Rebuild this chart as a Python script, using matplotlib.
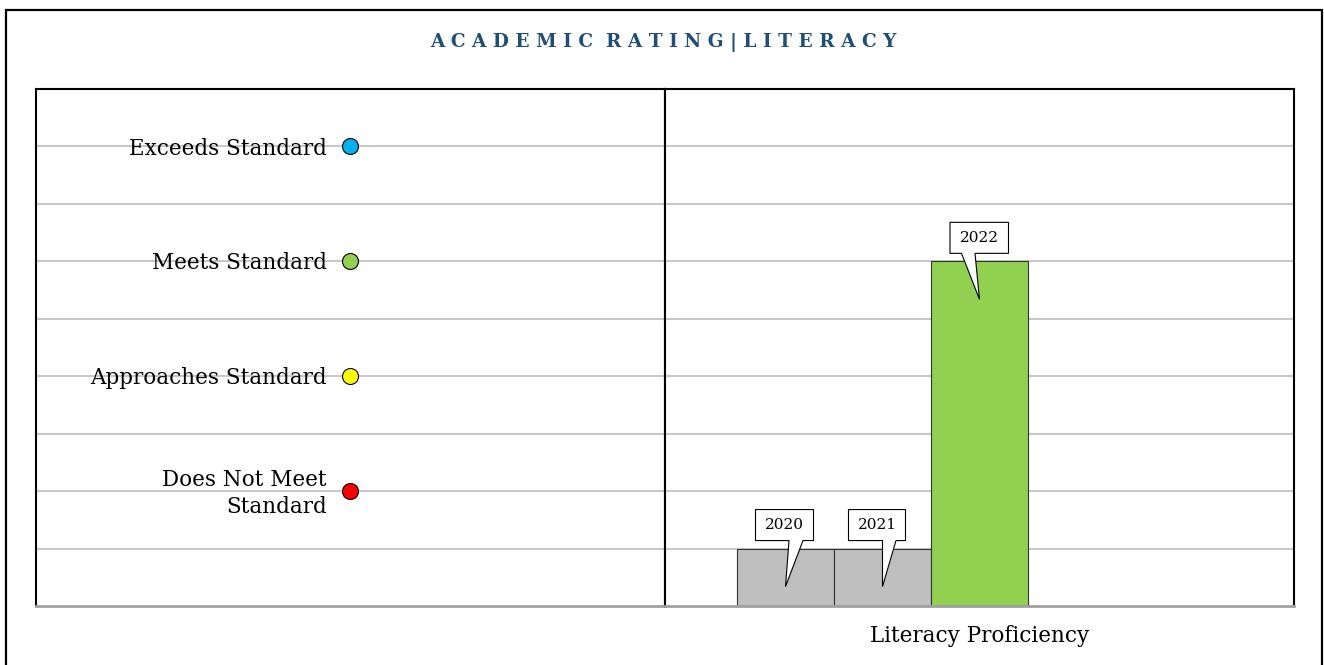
import numpy as np
import matplotlib.pyplot as plt
import matplotlib.transforms as mtransforms
from matplotlib.patches import Polygon, Rectangle

# data
levels = ["Exceeds Standard", "Meets Standard", "Approaches Standard", "Does Not Meet\nStandard"]
level_values = [8, 6, 4, 2]
level_colors = ["#00B0F0", "#92D050", "#FFFF00", "#FF0000"]

years = ["2020", "2021", "2022"]
ratings = [1, 1, 6]
bar_colors = ["#BFBFBF", "#BFBFBF", "#92D050"]
category = "Literacy Proficiency"

# callout geometry in pixels, relative to the top centre of each bar
# (box left, box right, wedge base left, wedge base right)
callouts = [(-30, 28, 3.5, 17.5), (-34, 23, 0, 13.5), (-29.5, 29, -18, -4.5)]

plt.rcParams["font.family"] = ["DejaVu Serif"]

W, H = 1324, 665
fig = plt.figure(figsize=(W / 100, H / 100), dpi=100)

# outer frame
fig.patches.append(Rectangle((6 / W, -0.05), (1322 - 6) / W, 1.05 - 10 / H,
                             transform=fig.transFigure, fill=False,
                             ec="black", lw=1.6))

fig.text(663 / W, 1 - 43 / H, "A C A D E M I C  R A T I N G | L I T E R A C Y",
         ha="center", va="center", fontsize=13.3, fontweight="bold", color="#1F4E79")

x0, x1, xm = 36 / W, 1294 / W, 665 / W
y0, y1 = 1 - 606 / H, 1 - 89 / H
axl = fig.add_axes([x0, y0, xm - x0, y1 - y0])
axr = fig.add_axes([xm, y0, x1 - xm, y1 - y0])

for ax in (axl, axr):
    ax.set_ylim(0, 9)
    ax.set_yticks(np.arange(1, 9))
    ax.yaxis.grid(True, color="#C8C8C8", lw=1.5)
    ax.set_axisbelow(True)
    ax.tick_params(left=False, bottom=False, labelleft=False, labelbottom=False)
    for s in ("top", "left", "right"):
        ax.spines[s].set_color("black")
        ax.spines[s].set_linewidth(1.5)
    ax.spines["bottom"].set_color("#A0A0A0")
    ax.spines["bottom"].set_linewidth(2)

# left panel: rating scale
axl.set_xlim(0, 1)
for lab, v, c in zip(levels, level_values, level_colors):
    axl.plot(0.5, v, "o", ms=11.5, mfc=c, mec="black", mew=0.8, zorder=3)
    axl.annotate(lab, (0.5, v), xytext=(-17, -1.5), textcoords="offset points",
                 ha="right", va="center", fontsize=15.5, linespacing=1.3)

# right panel: bars
pos = np.arange(len(years)) - 2
bw = 1.0
half = (x1 - xm) * W / 2 / 97
axr.set_xlim(-half, half)
axr.bar(pos, ratings, width=bw, color=bar_colors, edgecolor="#333333", lw=0.8, zorder=2)
axr.set_xticks([0])
axr.set_xlabel(category, fontsize=15.5, labelpad=14)

for x, v, yr, (bl, br, wl, wr) in zip(pos, ratings, years, callouts):
    tr = mtransforms.Affine2D() + mtransforms.ScaledTranslation(x, v, axr.transData)
    by0, by1, tip = 8, 39, -38
    verts = [(bl, by0), (bl, by1), (br, by1), (br, by0), (wr, by0), (0, tip), (wl, by0)]
    axr.add_patch(Polygon(verts, closed=True, transform=tr, fc="white",
                          ec="black", lw=0.8, zorder=4))
    axr.text((bl + br) / 2, (by0 + by1) / 2, yr, transform=tr, ha="center",
             va="center", fontsize=11, zorder=5)

fig.savefig("out.png", dpi=100)
